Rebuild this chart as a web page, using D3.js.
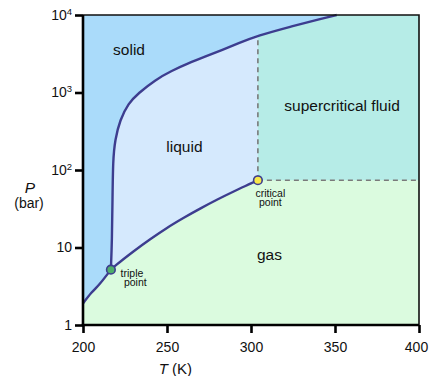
<!DOCTYPE html>
<html>
<head>
<meta charset="utf-8">
<script src="https://cdn.jsdelivr.net/npm/d3@7"></script>
<style>
  body { margin: 0; background: #fff; }
  svg { font-family: "Liberation Sans", Arial, Helvetica, sans-serif; }
</style>
</head>
<body>
<svg id="chart" width="429" height="376"></svg>
<script>
// CO2 phase diagram
const triplePoint = [216.6, 5.18];
const criticalPoint = [304.1, 73.8];

// [T (K), P (bar)]
const sublimationCurve = [[200, 1.9], [205, 2.6], [210, 3.4], [216.6, 5.18]];
const vaporCurve = [[216.6, 5.18], [220, 6.0], [230, 8.9], [240, 12.8], [250, 17.9],
  [260, 24.2], [270, 32.0], [280, 41.6], [290, 53.2], [300, 67.1], [304.1, 73.8]];
const meltingCurve = [[216.6, 5.18], [217.26, 12.5], [217.56, 41], [217.86, 135], [219.05, 244],
  [222.0, 442], [227.0, 726], [232.9, 977], [242.9, 1450], [252.8, 1910], [262.7, 2380],
  [272.6, 2900], [282.6, 3530], [292.4, 4310], [304.1, 5420], [323.2, 7060], [343.0, 9070],
  [351.0, 10000]];

const xTicks = [200, 250, 300, 350, 400];
const yTicks = [1, 10, 100, 1000, 10000];
const yTickLabels = [["1", ""], ["10", ""], ["10", "2"], ["10", "3"], ["10", "4"]];

const regionLabels = [
  { text: "solid", T: 227.4, P: 3050 },
  { text: "liquid", T: 260.4, P: 171 },
  { text: "supercritical fluid", T: 354.2, P: 577 },
  { text: "gas", T: 311, P: 6.9 }
];

const colors = {
  solid: "#aadbfa",
  liquid: "#d5e9fd",
  fluid: "#b6ece7",
  gas: "#dbfbdf",
  curve: "#3d3d8f"
};

const svg = d3.select("#chart");
const margin = { left: 83, top: 15, right: 10, bottom: 51 };
const W = 429 - margin.left - margin.right;
const H = 376 - margin.top - margin.bottom;

const x = d3.scaleLinear().domain([200, 400]).range([0, W]);
const y = d3.scaleLog().domain([1, 10000]).range([H, 0]);

const g = svg.append("g").attr("transform", `translate(${margin.left},${margin.top})`);

// gas background
g.append("rect").attr("width", W).attr("height", H).attr("fill", colors.gas);

// liquid: above the vapor curve up to the critical temperature
g.append("path")
  .datum(vaporCurve)
  .attr("fill", colors.liquid)
  .attr("d", d3.area().curve(d3.curveMonotoneX)
    .x(d => x(d[0])).y0(d => y(d[1])).y1(0));

// supercritical rectangle
g.append("rect")
  .attr("x", x(criticalPoint[0]))
  .attr("y", 0)
  .attr("width", x(400) - x(criticalPoint[0]))
  .attr("height", y(criticalPoint[1]))
  .attr("fill", colors.fluid);

// solid: left of the sublimation and melting curves
g.append("path")
  .datum(sublimationCurve)
  .attr("fill", colors.solid)
  .attr("d", d3.area().curve(d3.curveMonotoneX)
    .x(d => x(d[0])).y0(d => y(d[1])).y1(0));
g.append("path")
  .datum(meltingCurve)
  .attr("fill", colors.solid)
  .attr("d", d3.area().curve(d3.curveBasis)
    .y(d => y(d[1])).x0(0).x1(d => x(d[0])));

// dashed critical lines
const meltAtCrit = meltingCurve.find(d => d[0] === criticalPoint[0])[1];
g.append("line")
  .attr("x1", x(criticalPoint[0])).attr("x2", x(criticalPoint[0]))
  .attr("y1", y(criticalPoint[1])).attr("y2", y(meltAtCrit))
  .attr("stroke", "#7a7a7a").attr("stroke-width", 1.6).attr("stroke-dasharray", "5,4");
g.append("line")
  .attr("x1", x(criticalPoint[0])).attr("x2", x(400))
  .attr("y1", y(criticalPoint[1])).attr("y2", y(criticalPoint[1]))
  .attr("stroke", "#7a7a7a").attr("stroke-width", 1.6).attr("stroke-dasharray", "5,4");

// phase boundaries
const lineX = d3.line().curve(d3.curveMonotoneX).x(d => x(d[0])).y(d => y(d[1]));
const lineB = d3.line().curve(d3.curveBasis).x(d => x(d[0])).y(d => y(d[1]));
[[sublimationCurve, lineX], [vaporCurve, lineX], [meltingCurve, lineB]].forEach(([data, gen]) => {
  g.append("path").datum(data)
    .attr("fill", "none")
    .attr("stroke", colors.curve)
    .attr("stroke-width", 2.4)
    .attr("d", gen);
});

// top / right frame
g.append("path")
  .attr("d", `M0,0H${W}V${H}`)
  .attr("fill", "none").attr("stroke", "#111").attr("stroke-width", 1.6);

// axes
const xAxis = g.append("g").attr("transform", `translate(0,${H})`)
  .call(d3.axisBottom(x).tickValues(xTicks).tickSize(8).tickSizeOuter(0).tickPadding(9));
const yAxis = g.append("g")
  .call(d3.axisLeft(y).tickValues(yTicks).tickSize(8).tickSizeOuter(0).tickPadding(3).tickFormat(""));

[xAxis, yAxis].forEach(a => {
  a.select(".domain").attr("stroke", "#000").attr("stroke-width", 2.6);
  a.selectAll(".tick line").attr("stroke", "#000").attr("stroke-width", 2.6);
  a.selectAll(".tick text").attr("font-size", 14).attr("fill", "#111").attr("font-family", null);
});
xAxis.select(".domain").attr("d", `M-1.3,0H${W}`);
yAxis.select(".domain").attr("d", `M0,0V${H + 1.3}`);
// last label sits slightly inside, as in the original
xAxis.selectAll(".tick text").filter(d => d === 400).attr("dx", -3);

yAxis.selectAll(".tick text").each(function (d, i) {
  const t = d3.select(this);
  t.text(null);
  t.append("tspan").text(yTickLabels[i][0]);
  if (yTickLabels[i][1]) {
    t.append("tspan").attr("font-size", 9.5).attr("dy", "-0.55em").text(yTickLabels[i][1]);
  }
});

// axis titles
const tt = g.append("text")
  .attr("x", x(255)).attr("y", H + 49)
  .attr("text-anchor", "middle").attr("font-size", 15).attr("fill", "#111");
tt.append("tspan").attr("font-style", "italic").text("T");
tt.append("tspan").text(" (K)");

g.append("text")
  .attr("x", 30 - margin.left).attr("y", 193 - margin.top)
  .attr("text-anchor", "middle").attr("font-size", 15.5).attr("font-style", "italic")
  .attr("fill", "#111").text("P");
g.append("text")
  .attr("x", 29 - margin.left).attr("y", 208 - margin.top)
  .attr("text-anchor", "middle").attr("font-size", 14)
  .attr("fill", "#111").text("(bar)");

// region labels
g.selectAll(".region")
  .data(regionLabels)
  .join("text")
  .attr("x", d => x(d.T)).attr("y", d => y(d.P))
  .attr("text-anchor", "middle").attr("font-size", 15.5).attr("fill", "#111")
  .text(d => d.text);

// special points
[[triplePoint, "#4fae6b"], [criticalPoint, "#f7e84a"]].forEach(([p, c]) => {
  g.append("circle")
    .attr("cx", x(p[0])).attr("cy", y(p[1])).attr("r", 4.3)
    .attr("fill", c).attr("stroke", colors.curve).attr("stroke-width", 1.6);
});

const tpLabel = g.append("text").attr("font-size", 10.5).attr("fill", "#111");
tpLabel.append("tspan").attr("x", x(triplePoint[0]) + 9.7).attr("y", y(triplePoint[1]) + 7).text("triple");
tpLabel.append("tspan").attr("x", x(triplePoint[0]) + 13).attr("y", y(triplePoint[1]) + 16.8).text("point");

const cpLabel = g.append("text").attr("font-size", 10.5).attr("fill", "#111").attr("text-anchor", "middle");
cpLabel.append("tspan").attr("x", x(criticalPoint[0]) + 12.5).attr("y", y(criticalPoint[1]) + 16.8).text("critical");
cpLabel.append("tspan").attr("x", x(criticalPoint[0]) + 12.5).attr("y", y(criticalPoint[1]) + 25.8).text("point");
</script>
</body>
</html>
